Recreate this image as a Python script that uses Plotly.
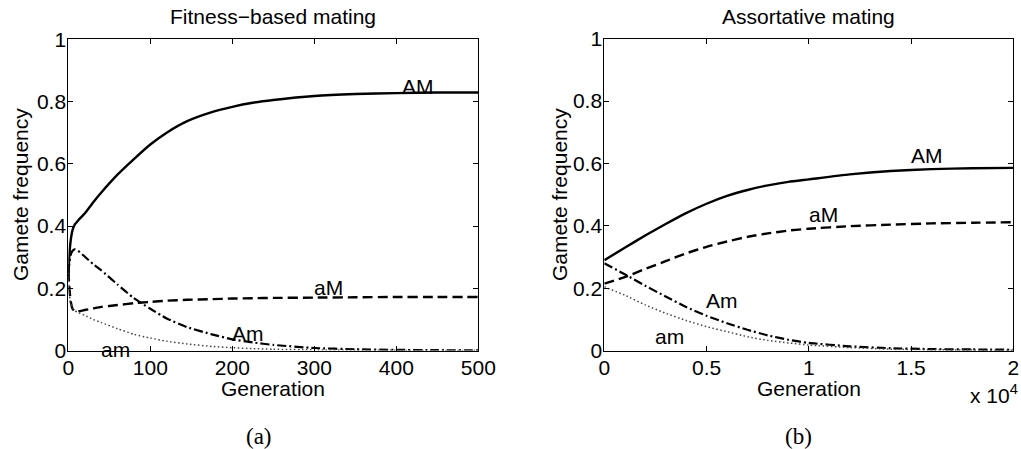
import plotly.graph_objects as go

# ---------------- data ----------------
gen_a = [0, 1, 2, 3, 5, 8, 12, 20, 30, 40, 60, 80, 100, 120, 145, 175, 200, 225, 250, 300, 350, 400, 450, 500]
AM_a = [0.23, 0.29, 0.33, 0.355, 0.385, 0.405, 0.418, 0.44, 0.475, 0.507, 0.565, 0.615, 0.662, 0.70,
        0.737, 0.766, 0.783, 0.796, 0.805, 0.818, 0.824, 0.827, 0.829, 0.829]
aM_a = [0.255, 0.215, 0.18, 0.158, 0.135, 0.126, 0.126, 0.13, 0.135, 0.14, 0.146, 0.152, 0.156, 0.16,
        0.163, 0.165, 0.167, 0.168, 0.169, 0.17, 0.171, 0.172, 0.172, 0.172]
Am_a = [0.25, 0.275, 0.295, 0.308, 0.32, 0.325, 0.32, 0.302, 0.278, 0.258, 0.212, 0.168, 0.134, 0.103,
        0.075, 0.052, 0.036, 0.026, 0.018, 0.008, 0.004, 0.002, 0.001, 0.0005]
am_a = [0.25, 0.2, 0.165, 0.15, 0.138, 0.128, 0.122, 0.113, 0.1, 0.09, 0.07, 0.052, 0.04, 0.03,
        0.021, 0.013, 0.009, 0.006, 0.004, 0.002, 0.001, 0.0005, 0.0, 0.0]

gen_b = [0, 1000, 2000, 3000, 4000, 5000, 6000, 7000, 8000, 9000, 10000, 12000, 14000, 16000, 18000, 20000]
AM_b = [0.29, 0.33, 0.369, 0.406, 0.441, 0.471, 0.496, 0.515, 0.53, 0.541, 0.549, 0.565, 0.576, 0.582, 0.585, 0.586]
aM_b = [0.215, 0.236, 0.262, 0.287, 0.312, 0.333, 0.35, 0.365, 0.376, 0.385, 0.391, 0.399, 0.404, 0.408, 0.41, 0.412]
Am_b = [0.28, 0.245, 0.208, 0.174, 0.14, 0.112, 0.088, 0.067, 0.049, 0.035, 0.025, 0.014, 0.008, 0.005, 0.004, 0.003]
am_b = [0.205, 0.178, 0.147, 0.12, 0.097, 0.077, 0.061, 0.045, 0.033, 0.025, 0.018, 0.01, 0.005, 0.003, 0.002, 0.001]

y_ticks = [0, 0.2, 0.4, 0.6, 0.8, 1]
y_ticktext = ["0", "0.2", "0.4", "0.6", "0.8", "1"]
xa_ticks = [0, 100, 200, 300, 400, 500]
xb_ticks = [0, 5000, 10000, 15000, 20000]
xb_ticktext = ["0", "0.5", "1", "1.5", "2"]

series_names = ["AM", "aM", "Am", "am"]

# ---------------- styles ----------------
FONT = "Liberation Sans, Arial, sans-serif"
SERIF = "Liberation Serif, Times New Roman, serif"
FS = 21
styles = {
    "AM": dict(color="black", width=2.4, dash="solid"),
    "aM": dict(color="black", width=2.4, dash="10px,5px"),
    "Am": dict(color="black", width=2.2, dash="9px,3px,2px,3px"),
    "am": dict(color="#444444", width=1.5, dash="1.5px,2.5px"),
}

fig = go.Figure()
for name, ys in zip(series_names, [AM_a, aM_a, Am_a, am_a]):
    fig.add_trace(go.Scatter(x=gen_a, y=ys, mode="lines", line=dict(shape="spline", smoothing=0.5, **styles[name]),
                             name=name, xaxis="x", yaxis="y", showlegend=False, hoverinfo="skip"))
for name, ys in zip(series_names, [AM_b, aM_b, Am_b, am_b]):
    fig.add_trace(go.Scatter(x=gen_b, y=ys, mode="lines", line=dict(shape="spline", smoothing=0.5, **styles[name]),
                             name=name, xaxis="x2", yaxis="y2", showlegend=False, hoverinfo="skip"))

W, H = 1021, 449

def fx(x):
    return x / W

def fy(y):
    return 1 - y / H

axis_common = dict(showline=True, linecolor="black", linewidth=1, mirror="allticks",
                   ticks="inside", ticklen=5, tickcolor="black", tickwidth=1,
                   showgrid=False, zeroline=False, automargin=False,
                   tickfont=dict(family=FONT, size=FS, color="black"))

fig.update_layout(
    width=W, height=H,
    margin=dict(l=0, r=0, t=0, b=0, pad=0, autoexpand=False),
    paper_bgcolor="white", plot_bgcolor="white",
    xaxis=dict(domain=[fx(68.3), fx(478.3)], range=[0, 500], tickvals=xa_ticks, anchor="y",
               ticklabelstandoff=-2, **axis_common),
    yaxis=dict(domain=[fy(350.5), fy(39.3)], range=[0, 1], tickvals=y_ticks, ticktext=y_ticktext,
               anchor="x", ticklabelstandoff=-3, **axis_common),
    xaxis2=dict(domain=[fx(604.3), fx(1013.3)], range=[0, 20000], tickvals=xb_ticks, ticktext=xb_ticktext,
                anchor="y2", ticklabelstandoff=-2, **axis_common),
    yaxis2=dict(domain=[fy(350.7), fy(38.7)], range=[0, 1], tickvals=y_ticks, ticktext=y_ticktext,
                anchor="x2", ticklabelstandoff=-3, **axis_common),
    showlegend=False,
)

def px_ann(text, x, y, size=FS, family=FONT, xanchor="center", **kw):
    return dict(text=text, x=fx(x), y=fy(y), xref="paper", yref="paper", showarrow=False,
                font=dict(family=family, size=size, color="black"), xanchor=xanchor, yanchor="middle", **kw)

anns = [
    px_ann("Fitness\u2212based mating", 273.3, 16),
    px_ann("Assortative mating", 808.8, 16),
    px_ann("Generation", 273.3, 388),
    px_ann("Generation", 808.8, 388),
    px_ann("Gamete frequency", 20, 195, textangle=-90),
    px_ann("Gamete frequency", 559, 195, textangle=-90),
    px_ann("x 10<sup>4</sup>", 1020, 394, xanchor="right"),
    px_ann("(a)", 259, 436, size=23, family=SERIF),
    px_ann("(b)", 798, 436, size=23, family=SERIF),
]

def data_ann(text, x, y, xr, yr):
    return dict(text=text, x=x, y=y, xref=xr, yref=yr, showarrow=False,
                font=dict(family=FONT, size=FS, color="black"), xanchor="center", yanchor="middle")

anns += [
    data_ann("AM", 426, 0.847, "x", "y"),
    data_ann("aM", 317, 0.204, "x", "y"),
    data_ann("Am", 219, 0.056, "x", "y"),
    data_ann("am", 57, 0.003, "x", "y"),
    data_ann("AM", 15765, 0.627, "x2", "y2"),
    data_ann("aM", 10709, 0.435, "x2", "y2"),
    data_ann("Am", 5770, 0.162, "x2", "y2"),
    data_ann("am", 3178, 0.044, "x2", "y2"),
]
fig.update_layout(annotations=anns)

# remove the browser's default 8px body margin so the figure fills the window exactly
fig.write_html("out.html", config={"displayModeBar": False},
               post_script="document.body.style.margin='0';document.body.style.overflow='hidden';")
